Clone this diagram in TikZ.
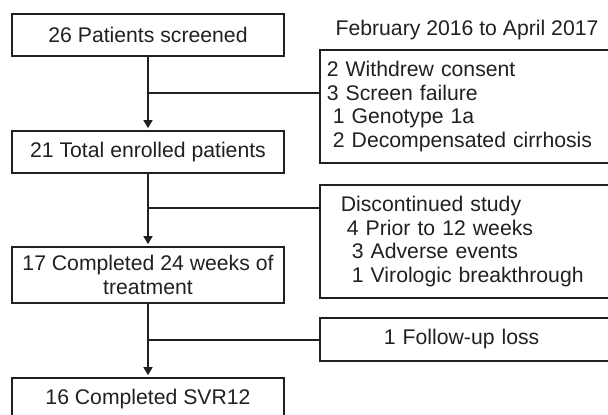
\documentclass[tikz,border=0pt]{standalone}
\usepackage{fontspec}
\setmainfont{Liberation Sans}
\usetikzlibrary{arrows.meta}
\definecolor{ink}{RGB}{35,31,32}

\begin{document}
\begin{tikzpicture}[x=0.5pt, y=-0.5pt, line width=0.85pt,
    txt/.style={text=ink, font=\fontsize{10.6}{11.9}\selectfont},
    flowbox/.style={txt, draw=ink, minimum width=136pt, inner sep=0pt, align=center},
    sidebox/.style={txt, draw=ink, anchor=west, inner xsep=3.5pt, inner ysep=0pt,
        text width=143pt, align=left},
    flowarrow/.style={draw=ink, -{Triangle[length=4pt, width=4.5pt]}, shorten >=1pt}]
    \clip (0,0) rectangle (608,414);
    % main column
    \node[flowbox, minimum height=21pt] (scr) at (148,35) {26 Patients screened};
    \node[flowbox, minimum height=21pt] (enr) at (148,152) {21 Total enrolled patients};
    \node[flowbox, minimum height=28pt] (wk24) at (148,275) {17 Completed 24 weeks of\\treatment};
    \node[flowbox, minimum height=21pt] (svr) at (148,399) {16 Completed SVR12};
    % side boxes
    \node[txt] (period) at (467,30) {February 2016 to April 2017};
    \node[sidebox, minimum height=56.5pt] (excl) at (319,106.5)
        {2 Withdrew consent\\3 Screen failure\\\hspace*{3pt}1 Genotype 1a\\\hspace*{3pt}2 Decompensated cirrhosis};
    \node[sidebox, minimum height=56.5pt] (disc) at (319,241.5)
        {\hspace*{7pt}Discontinued study\\\hspace*{10pt}4 Prior to 12 weeks\\\hspace*{12.5pt}3 Adverse events\\\hspace*{12.5pt}1 Virologic breakthrough};
    \node[sidebox, minimum height=21.5pt] (loss) at (319,339.5) {\hspace*{28.5pt}1 Follow-up loss};
    % arrows
    \draw[flowarrow] (scr.south) -- (enr.north);
    \draw[flowarrow] (enr.south) -- (wk24.north);
    \draw[flowarrow] (wk24.south) -- (svr.north);
    % branches
    \coordinate (j1) at (148,93);
    \coordinate (j2) at (148,208);
    \coordinate (j3) at (148,340);
    \draw[ink] (j1) -- (j1 -| excl.west);
    \draw[ink] (j2) -- (j2 -| disc.west);
    \draw[ink] (j3) -- (j3 -| loss.west);
\end{tikzpicture}
\end{document}
